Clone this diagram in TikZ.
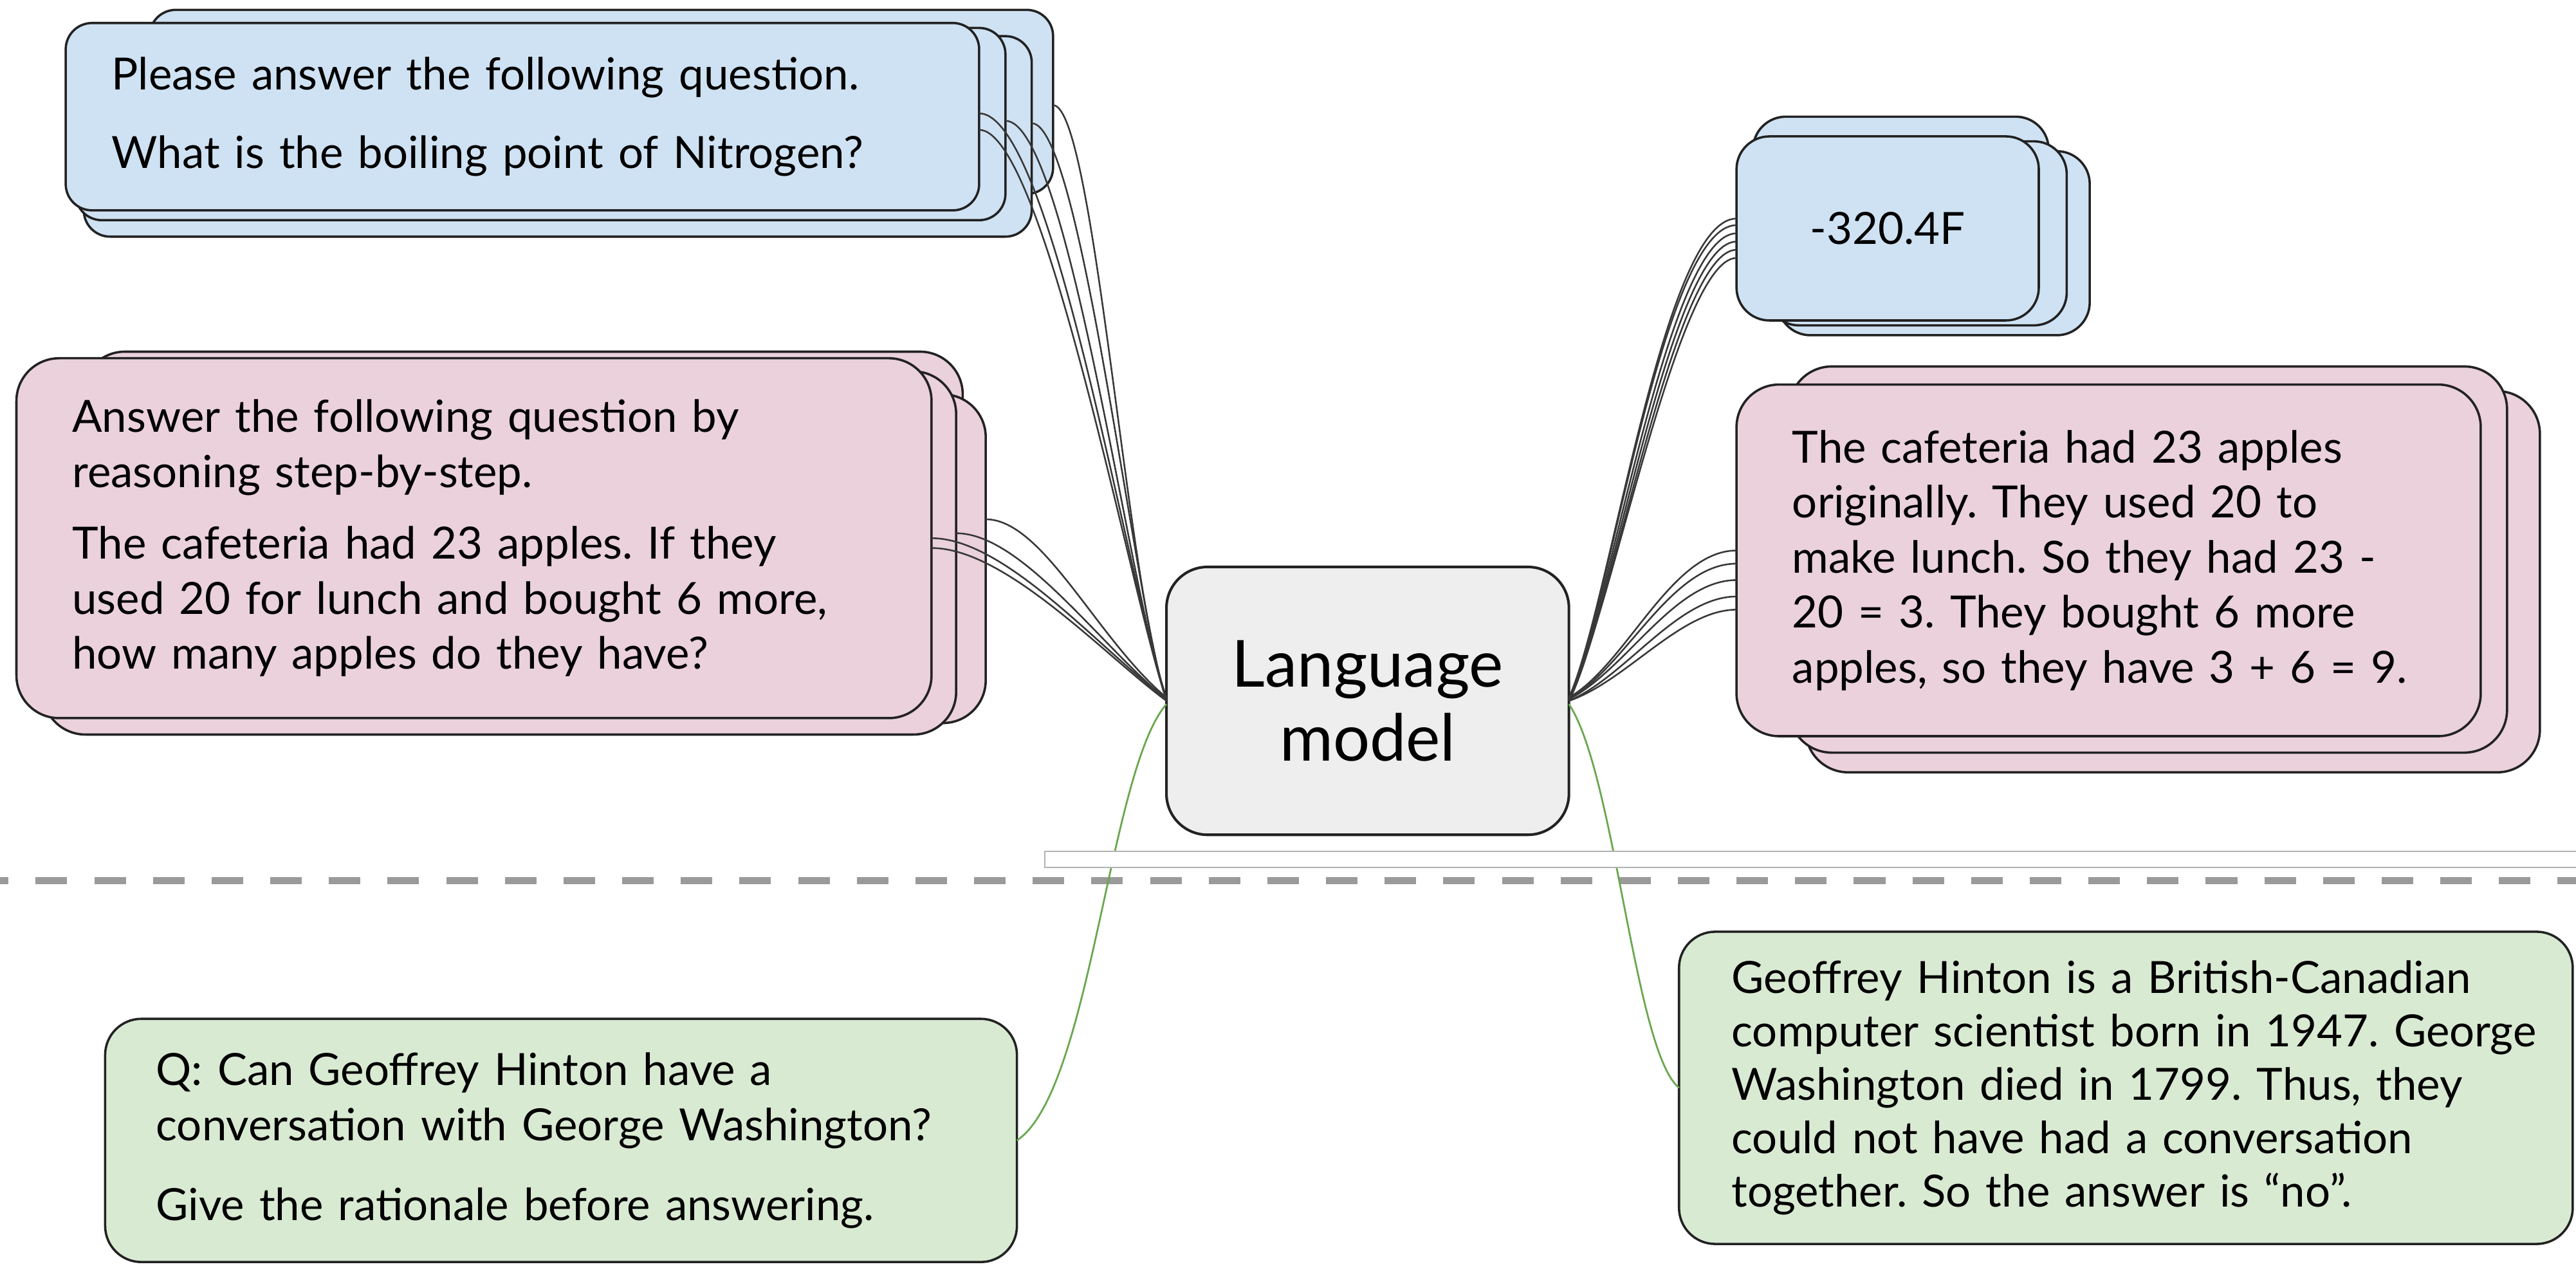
\documentclass[tikz,border=0pt]{standalone}
\usepackage{fontspec}
\setmainfont{Lato}
\usetikzlibrary{calc}
\definecolor{bluef}{HTML}{CFE2F3}
\definecolor{pinkf}{HTML}{EAD1DC}
\definecolor{greenf}{HTML}{D9EAD3}
\definecolor{lmf}{HTML}{EEEEEE}
\definecolor{edgec}{HTML}{222222}
\definecolor{wirec}{HTML}{383838}
\definecolor{greenw}{HTML}{6AA84F}
\definecolor{dashc}{HTML}{9A9A9A}
\frenchspacing
\begin{document}
\begin{tikzpicture}[x=1pt,y=-1pt,
  card/.style={draw=edgec, line width=1.4pt, inner sep=0pt, outer sep=0pt},
  bluecard/.style={card, fill=bluef, rounded corners=16pt},
  pinkcard/.style={card, fill=pinkf, rounded corners=26pt},
  greencard/.style={card, fill=greenf, rounded corners=22pt},
  body/.style={font=\fontsize{27}{33.5}\selectfont, align=left, inner ysep=0pt},
  wire/.style={draw=wirec, line width=1pt},
  gwire/.style={draw=greenw, line width=1.1pt}]
\useasboundingbox (0,0) rectangle (1568,772);

% divider between the two halves
\draw[dashc, line width=4.5pt, dash pattern=on 19.2pt off 16.5pt, dash phase=14pt]
  (0,536) -- (1568,536);

% ---- left blue stack: question prompt
\node[bluecard, minimum width=550pt, minimum height=112pt] (LB1) at (366,62) {};
\node[bluecard, minimum width=577pt, minimum height=122pt] (LB2) at (339.5,83) {};
\node[bluecard, minimum width=566pt, minimum height=117pt] (LB3) at (329,75.5) {};
\node[bluecard, body, minimum width=556pt, minimum height=114pt, text width=500pt, inner xsep=28pt] (LB0) at (318,71)
  {Please answer the following question.\\[14pt]What is the boiling point of Nitrogen?};

% ---- left pink stack: step-by-step prompt
\node[pinkcard, minimum width=536pt, minimum height=216pt] (LP1) at (318,322) {};
\node[pinkcard, minimum width=564pt, minimum height=200pt] (LP2) at (318,340) {};
\node[pinkcard, minimum width=556pt, minimum height=221pt] (LP3) at (304,336.5) {};
\node[pinkcard, body, minimum width=557pt, minimum height=219pt, text width=489pt, inner xsep=34pt] (LP0) at (288.5,327.5)
  {Answer the following question by\\reasoning step-by-step.\\[10pt]The cafeteria had 23 apples. If they\\used 20 for lunch and bought 6 more,\\how many apples do they have?};

% ---- right blue stack: short answer
\node[bluecard, rounded corners=20pt, minimum width=180pt, minimum height=114pt] (RB1) at (1157,128) {};
\node[bluecard, rounded corners=20pt, minimum width=190pt, minimum height=112pt] (RB2) at (1177,148) {};
\node[bluecard, rounded corners=20pt, minimum width=183pt, minimum height=112pt] (RB3) at (1166.5,142) {};
\node[bluecard, rounded corners=20pt, font=\fontsize{27}{33.5}\selectfont, minimum width=184pt, minimum height=112pt] (RB0) at (1149,139) {-320.4F};

% ---- right pink stack: reasoning answer
\node[pinkcard, minimum width=447pt, minimum height=232pt] (RP2) at (1322.5,354) {};
\node[pinkcard, minimum width=437pt, minimum height=235pt] (RP1) at (1307.5,340.5) {};
\node[pinkcard, body, minimum width=453pt, minimum height=214pt, text width=385pt, inner xsep=34pt] (RP0) at (1283.5,341)
  {\mbox{The cafeteria had 23 apples}\\\mbox{originally. They used 20 to}\\\mbox{make lunch. So they had 23 -}\\\mbox{20 = 3. They bought 6 more}\\\mbox{apples, so they have 3 + 6 = 9.}};

% ---- the model
\node[card, fill=lmf, rounded corners=25pt, line width=1.6pt, minimum width=245pt, minimum height=163pt,
  font=\fontsize{39.5}{45}\selectfont, align=center] (LM) at (832.5,426.5) {Language\\model};

% ---- green pair below the divider
\node[greencard, body, minimum width=555pt, minimum height=148pt, text width=493pt, inner xsep=31pt] (GL) at (341.5,694)
  {Q: Can Geoffrey Hinton have a\\conversation with George Washington?\\[15pt]Give the rationale before answering.};
\node[greencard, body, font=\fontsize{27}{32.5}\selectfont, minimum width=544pt, minimum height=190pt, text width=480pt, inner xsep=32pt] (GR) at (1294,662)
  {\mbox{Geoffrey Hinton is a British-Canadian}\\\mbox{computer scientist born in 1947. George}\\\mbox{Washington died in 1799. Thus, they}\\\mbox{could not have had a conversation}\\\mbox{together. So the answer is “no”.}};

% ---- wires: prompts into the model
\draw[wire] ($(LB0.east)+(0,-2)$) .. controls +(45,0) and +(-22,-60) .. ($(LM.west)+(0,-2)$);
\draw[wire] ($(LB0.east)+(0,8)$) .. controls +(40,0) and +(-20,-55) .. ($(LM.west)+(0,-1)$);
\draw[wire] ($(LB3.east)+(0,-2)$) .. controls +(38,0) and +(-22,-60) .. ($(LM.west)+(0,-1)$);
\draw[wire] ($(LB2.east)+(0,-8)$) .. controls +(30,0) and +(-20,-62) .. ($(LM.west)+(0,0)$);
\draw[wire] ($(LB1.east)+(0,2)$) .. controls +(25,0) and +(-24,-65) .. ($(LM.west)+(0,-2)$);

\draw[wire] ($(LP0.east)+(0,0)$) .. controls +(45,0) and +(-40,-30) .. ($(LM.west)+(0,-1)$);
\draw[wire] ($(LP0.east)+(0,6)$) .. controls +(45,0) and +(-38,-28) .. ($(LM.west)+(0,0)$);
\draw[wire] ($(LP3.east)+(0,-12)$) .. controls +(40,0) and +(-40,-32) .. ($(LM.west)+(0,-1)$);
\draw[wire] ($(LP2.east)+(0,-24)$) .. controls +(35,0) and +(-42,-35) .. ($(LM.west)+(0,-2)$);

% ---- wires: model into the answers
\draw[wire] ($(LM.east)+(0,-2)$) .. controls +(25,-55) and +(-45,0) .. ($(RB0.west)+(0,-6)$);
\draw[wire] ($(LM.east)+(0,-1)$) .. controls +(25,-55) and +(-45,0) .. ($(RB0.west)+(0,-2)$);
\draw[wire] ($(LM.east)+(0,-1)$) .. controls +(25,-52) and +(-42,0) .. ($(RB0.west)+(0,3)$);
\draw[wire] ($(LM.east)+(0,0)$) .. controls +(25,-50) and +(-40,0) .. ($(RB0.west)+(0,8)$);
\draw[wire] ($(LM.east)+(0,0)$) .. controls +(25,-48) and +(-38,0) .. ($(RB0.west)+(0,13)$);
\draw[wire] ($(LM.east)+(0,-2)$) .. controls +(25,-46) and +(-36,0) .. ($(RB0.west)+(0,18)$);

\draw[wire] ($(LM.east)+(0,-2)$) .. controls +(35,-20) and +(-40,0) .. ($(RP0.west)+(0,-6)$);
\draw[wire] ($(LM.east)+(0,-1)$) .. controls +(35,-20) and +(-40,0) .. ($(RP0.west)+(0,2)$);
\draw[wire] ($(LM.east)+(0,-1)$) .. controls +(35,-18) and +(-38,0) .. ($(RP0.west)+(0,12)$);
\draw[wire] ($(LM.east)+(0,0)$) .. controls +(35,-15) and +(-36,0) .. ($(RP0.west)+(0,22)$);
\draw[wire] ($(LM.east)+(0,0)$) .. controls +(35,-12) and +(-34,0) .. ($(RP0.west)+(0,30)$);

% ---- green wires for the lower example
\draw[gwire] ($(LM.west)+(0,2)$) .. controls +(-35,40) and +(45,-30) .. (GL.east);
\draw[gwire] ($(LM.east)+(0,2)$) .. controls +(28,42) and +(-27,-22) .. (GR.west);

% strip laid over the wires just above the divider
\draw[draw=black!30, line width=0.8pt, fill=white] (636,518) rectangle (1590,528);
\end{tikzpicture}
\end{document}
